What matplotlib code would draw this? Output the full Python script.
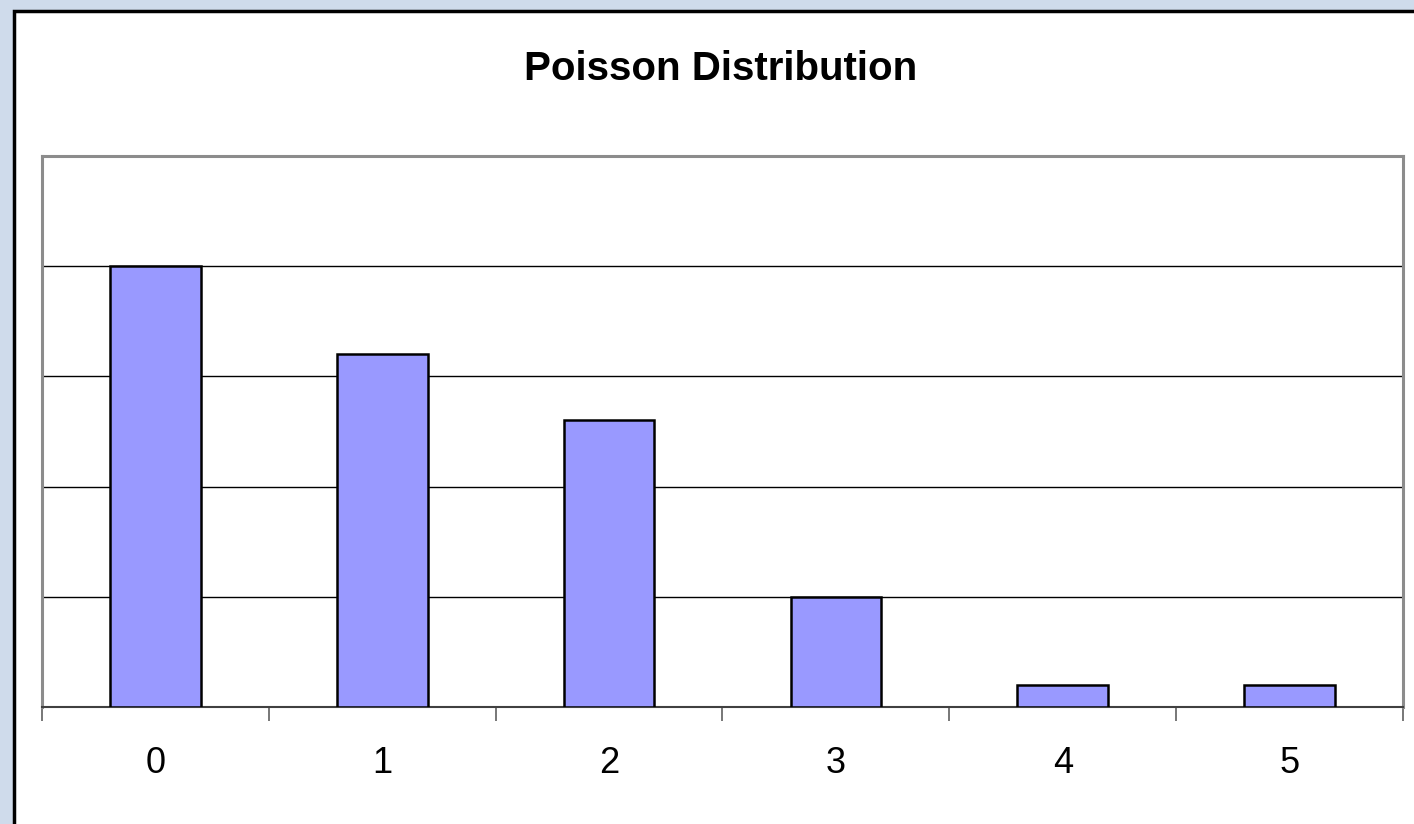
import matplotlib
matplotlib.use("Agg")
import matplotlib.pyplot as plt
from matplotlib.patches import Rectangle

categories = ["0", "1", "2", "3", "4", "5"]
counts = [20, 16, 13, 5, 1, 1]
grid_levels = [5, 10, 15, 20]

plt.rcParams['font.family'] = ['Liberation Sans', 'DejaVu Sans']

fig = plt.figure(figsize=(14.14, 8.24), dpi=100)
fig.patch.set_facecolor('#cfdbeb')

# white chart area with black frame running off the right/bottom edge
W, H = 1414, 824
fig.patches.append(Rectangle((13.5 / W, -0.1), 1.2, 1 - 10.5 / H + 0.1,
                             transform=fig.transFigure, facecolor='white',
                             edgecolor='black', linewidth=2.5, zorder=0))

ax = fig.add_axes([42 / W, 1 - 707 / H, (1403 - 42) / W, (707 - 156) / H])
ax.set_zorder(2)
ax.set_facecolor('white')

x = range(len(categories))
ax.bar(x, counts, width=0.4, color='#9999ff', edgecolor='black', linewidth=1.8, zorder=3)

ax.set_xlim(-0.5, len(categories) - 0.5)
ax.set_ylim(0, 25)
for g in grid_levels:
    ax.axhline(g, color='black', linewidth=1.0, zorder=1)

ax.set_yticks([])
ax.set_xticks(list(x))
ax.set_xticklabels(categories, fontsize=26)
ax.tick_params(axis='x', which='major', length=0, pad=28)
ax.set_xticks([i - 0.5 for i in range(len(categories) + 1)], minor=True)
ax.tick_params(axis='x', which='minor', length=10, width=1.2, color='#606060')

for side in ['left', 'top', 'right']:
    ax.spines[side].set_color('#8c8c8c')
    ax.spines[side].set_linewidth(2.2)
ax.spines['bottom'].set_color('#404040')
ax.spines['bottom'].set_linewidth(1.5)

fig.text(721 / W, 1 - 80 / H, "Poisson Distribution", ha='center', va='baseline',
         fontsize=29, fontweight='bold')

fig.savefig("out.png", dpi=100, facecolor=fig.get_facecolor())
